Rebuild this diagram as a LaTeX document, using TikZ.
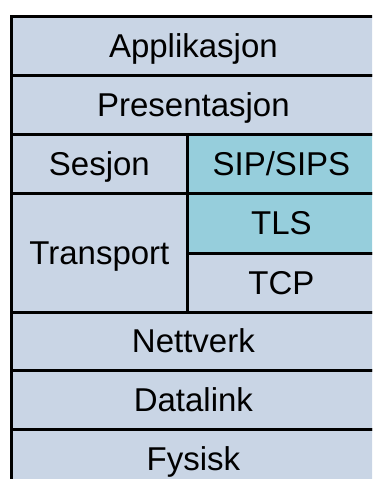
\documentclass[tikz,border=0pt]{standalone}
\usepackage{fontspec}
\setmainfont{Liberation Sans}
\definecolor{layer}{RGB}{201,213,229}
\definecolor{sip}{RGB}{150,206,220}
\begin{document}
\begin{tikzpicture}[x=1pt,y=1pt,
  cell/.style={draw=black, line width=2.8pt, fill=layer, rectangle, inner sep=0pt,
    anchor=north west, text height=23pt, text depth=0pt,
    font=\fontsize{33}{38}\selectfont},
  hl/.style={cell, fill=sip}]
\useasboundingbox (0,0) rectangle (372,479);
\clip (0,0) rectangle (372,479);
% y_tikz = 479 - y_px
\node[cell, minimum width=364pt, minimum height=59pt] (app) at (10,464) {Applikasjon};
\node[cell, minimum width=364pt, minimum height=59pt] (pres) at (10,405) {Presentasjon};
\node[cell, minimum width=176pt, minimum height=59pt] (ses) at (10,346) {Sesjon};
\node[hl, minimum width=188pt, minimum height=59pt] (sipn) at (186,346) {SIP/SIPS};
\node[cell, minimum width=176pt, minimum height=119pt] (trans) at (10,287) {Transport};
\node[hl, minimum width=188pt, minimum height=60pt] (tls) at (186,287) {TLS};
\node[cell, minimum width=188pt, minimum height=59pt] (tcp) at (186,227) {TCP};
\node[cell, minimum width=364pt, minimum height=58pt] (nett) at (10,168) {Nettverk};
\node[cell, minimum width=364pt, minimum height=59pt] (data) at (10,110) {Datalink};
\node[cell, minimum width=364pt, minimum height=59pt] (fys) at (10,51) {Fysisk};
\end{tikzpicture}
\end{document}
